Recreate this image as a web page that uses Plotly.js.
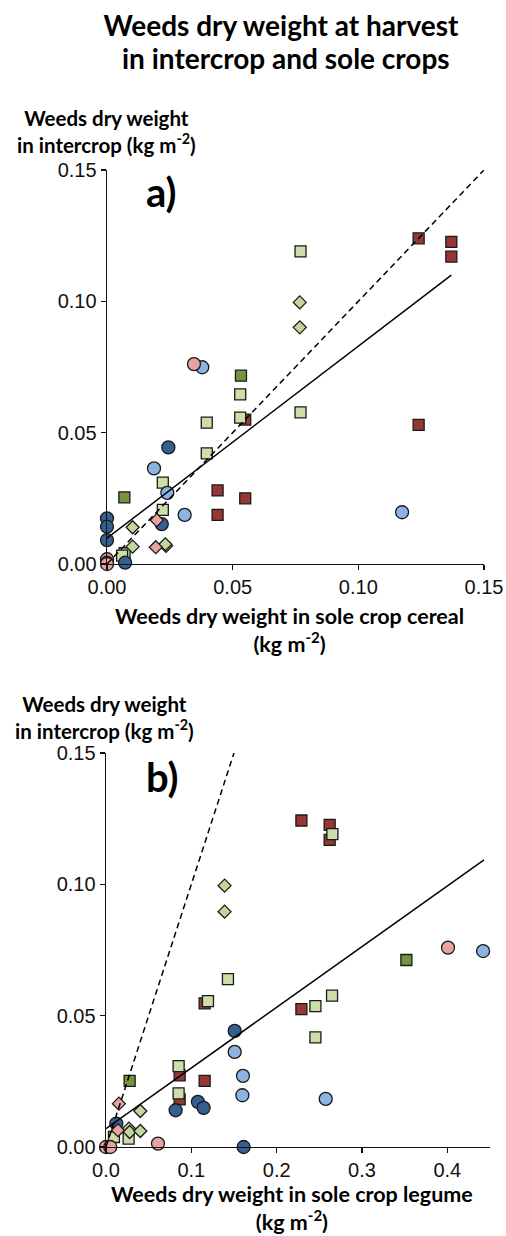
<!DOCTYPE html>
<html>
<head>
<meta charset="utf-8">
<script src="https://cdn.plot.ly/plotly-3.0.1.min.js"></script>
<style>html,body{margin:0;padding:0;background:#fff;}#chart{width:506px;height:1236px;}</style>
</head>
<body>
<div id="chart"></div>
<script>
// ---------- Panel a: x = weeds in sole crop cereal, y = weeds in intercrop ----------
const a_redSq_x   = [0.124, 0.137, 0.137, 0.124, 0.055, 0.044, 0.055, 0.044];
const a_redSq_y   = [0.124, 0.1226, 0.117, 0.053, 0.055, 0.028, 0.025, 0.0187];
const a_lgSq_x    = [0.077, 0.053, 0.053, 0.0397, 0.0397, 0.077, 0.0222, 0.0222, 0.007, 0.006];
const a_lgSq_y    = [0.119, 0.0646, 0.0557, 0.0538, 0.0421, 0.0577, 0.031, 0.0206, 0.0041, 0.0032];
const a_dgSq_x    = [0.0533, 0.0069];
const a_dgSq_y    = [0.0717, 0.0254];
const a_gDia_x    = [0.0767, 0.0767, 0.0102, 0.0102, 0.0235, 0.0232];
const a_gDia_y    = [0.0996, 0.0901, 0.014, 0.0066, 0.0069, 0.0075];
const a_pDia_x    = [0.0198, 0.0194];
const a_pDia_y    = [0.0167, 0.0064];
const a_pCirc_x   = [0.0346, 0.0, 0.0, 0.0];
const a_pCirc_y   = [0.0761, 0.0018, 0.0005, 0.0];
const a_lbCirc_x  = [0.0379, 0.0187, 0.024, 0.0309, 0.1174];
const a_lbCirc_y  = [0.0749, 0.0364, 0.0271, 0.0187, 0.0197];
const a_dbCirc_x  = [0.0244, 0.0218, 0.0, 0.0, 0.0, 0.0072];
const a_dbCirc_y  = [0.0444, 0.0152, 0.0174, 0.0142, 0.0091, 0.0005];
const a_fit_x     = [0.0, 0.137];
const a_fit_y     = [0.0098, 0.110];
const a_one_x     = [0.0, 0.15];
const a_one_y     = [0.0, 0.15];

// ---------- Panel b: x = weeds in sole crop legume, y = weeds in intercrop ----------
const b_redSq_x   = [0.229, 0.2621, 0.2621, 0.229, 0.1156, 0.0863, 0.1156, 0.0863];
const b_redSq_y   = [0.1243, 0.1226, 0.1169, 0.0525, 0.0547, 0.0273, 0.0252, 0.0181];
const b_lgSq_x    = [0.2653, 0.1429, 0.1195, 0.2454, 0.2454, 0.2649, 0.0851, 0.0851, 0.0093, 0.0265];
const b_lgSq_y    = [0.1191, 0.0639, 0.0555, 0.0536, 0.0417, 0.0576, 0.0308, 0.0204, 0.0038, 0.0032];
const b_dgSq_x    = [0.352, 0.0277];
const b_dgSq_y    = [0.0712, 0.0252];
const b_gDia_x    = [0.139, 0.139, 0.0402, 0.0269, 0.0277, 0.0402];
const b_gDia_y    = [0.0995, 0.0896, 0.0137, 0.007, 0.0057, 0.0061];
const b_pDia_x    = [0.0151, 0.014];
const b_pDia_y    = [0.0165, 0.0064];
const b_pCirc_x   = [0.4008, 0.0, 0.005, 0.0609];
const b_pCirc_y   = [0.0759, 0.0, 0.0, 0.0013];
const b_lbCirc_x  = [0.4419, 0.1508, 0.1605, 0.1598, 0.2575];
const b_lbCirc_y  = [0.0746, 0.0362, 0.0271, 0.0197, 0.0183];
const b_dbCirc_x  = [0.1508, 0.1077, 0.1144, 0.0816, 0.0121, 0.1613];
const b_dbCirc_y  = [0.0442, 0.0172, 0.0149, 0.014, 0.0089, 0.0];
const b_fit_x     = [0.0, 0.443];
const b_fit_y     = [0.007, 0.1093];
const b_one_x     = [0.0, 0.15];
const b_one_y     = [0.0, 0.15];

const xTicksA = [0, 0.05, 0.10, 0.15];
const xTicksB = [0, 0.1, 0.2, 0.3, 0.4];
const yTicks  = [0, 0.05, 0.10, 0.15];

// ---------- styling ----------
const W = 506, H = 1236;
const OUT = '#1a1a1a';
const styles = {
  redSq:  {symbol: 'square',  color: '#953735', size: 11},
  lgSq:   {symbol: 'square',  color: '#CDDFA9', size: 11},
  dgSq:   {symbol: 'square',  color: '#77933C', size: 11},
  lbCirc: {symbol: 'circle',  color: '#8DB3E2', size: 13},
  dbCirc: {symbol: 'circle',  color: '#365F91', size: 13},
  pCirc:  {symbol: 'circle',  color: '#E6A3A1', size: 13},
  gDia:   {symbol: 'diamond', color: '#C3D69B', size: 10},
  pDia:   {symbol: 'diamond', color: '#E6A3A1', size: 10}
};

function pts(x, y, st, xa, ya) {
  return {
    type: 'scatter', mode: 'markers', x: x, y: y, xaxis: xa, yaxis: ya,
    cliponaxis: false, hoverinfo: 'skip',
    marker: {symbol: st.symbol, color: st.color, size: st.size, line: {color: OUT, width: 1.3}}
  };
}
function ln(x, y, dash, xa, ya) {
  return {type: 'scatter', mode: 'lines', x: x, y: y, xaxis: xa, yaxis: ya,
    cliponaxis: false, hoverinfo: 'skip',
    line: {color: '#000', width: 1.5, dash: dash}};
}

const A = {redSq:[a_redSq_x,a_redSq_y], lgSq:[a_lgSq_x,a_lgSq_y], dgSq:[a_dgSq_x,a_dgSq_y],
  lbCirc:[a_lbCirc_x,a_lbCirc_y], pCirc:[a_pCirc_x,a_pCirc_y], dbCirc:[a_dbCirc_x,a_dbCirc_y],
  gDia:[a_gDia_x,a_gDia_y], pDia:[a_pDia_x,a_pDia_y]};
const B = {redSq:[b_redSq_x,b_redSq_y], lgSq:[b_lgSq_x,b_lgSq_y], dgSq:[b_dgSq_x,b_dgSq_y],
  lbCirc:[b_lbCirc_x,b_lbCirc_y], pCirc:[b_pCirc_x,b_pCirc_y], dbCirc:[b_dbCirc_x,b_dbCirc_y],
  gDia:[b_gDia_x,b_gDia_y], pDia:[b_pDia_x,b_pDia_y]};
const order = ['redSq','lgSq','dgSq','lbCirc','pCirc','dbCirc','gDia','pDia'];

const data = [];
order.forEach(k => data.push(pts(A[k][0], A[k][1], styles[k], 'x', 'y')));
data.push(ln(a_one_x, a_one_y, '6px,4px', 'x', 'y'));
data.push(ln(a_fit_x, a_fit_y, 'solid', 'x', 'y'));
order.forEach(k => data.push(pts(B[k][0], B[k][1], styles[k], 'x2', 'y2')));
data.push(ln(b_one_x, b_one_y, '6px,4px', 'x2', 'y2'));
data.push(ln(b_fit_x, b_fit_y, 'solid', 'x2', 'y2'));

const tickFont = {family: 'Liberation Sans, Arial, sans-serif', size: 20, color: '#111'};
function axisBase(extra) {
  return Object.assign({
    showline: true, linecolor: '#111', linewidth: 1.4, mirror: false,
    ticks: 'outside', ticklen: 5, tickwidth: 1.2, tickcolor: '#111',
    showgrid: false, zeroline: false, tickfont: tickFont, fixedrange: true
  }, extra);
}
const px = v => v / W;
const py = v => 1 - v / H;

const TF = 'Lato, "Open Sans", sans-serif';
function lab(text, x, y, size) {
  return {text: text, xref: 'paper', yref: 'paper', x: px(x), y: py(y),
    xanchor: 'center', yanchor: 'middle', showarrow: false,
    font: {family: TF, size: size, color: '#000', weight: 700}};
}

const layout = {
  width: W, height: H,
  margin: {l: 0, r: 0, t: 0, b: 0},
  paper_bgcolor: '#fff', plot_bgcolor: '#fff',
  showlegend: false,
  title: {text: 'Weeds dry weight at harvest',
    x: px(281), xanchor: 'center', y: py(26), yanchor: 'middle', yref: 'container',
    font: {family: TF, size: 28, color: '#000', weight: 700}},
  xaxis: axisBase({domain: [px(107), px(484)], anchor: 'y', range: [0, 0.15],
    tickvals: xTicksA, tickformat: '.2f'}),
  yaxis: axisBase({domain: [py(564), py(170)], anchor: 'x', range: [0, 0.15],
    tickvals: yTicks, tickformat: '.2f'}),
  xaxis2: axisBase({domain: [px(106), px(490)], anchor: 'y2', range: [0, 0.45],
    tickvals: xTicksB, tickformat: '.1f'}),
  yaxis2: axisBase({domain: [py(1147), py(753)], anchor: 'x2', range: [0, 0.15],
    tickvals: yTicks, tickformat: '.2f'}),
  annotations: [
    lab('in intercrop and sole crops', 286, 58, 28),
    lab('Weeds dry weight<br>in intercrop (kg m<sup>-2</sup>)', 106, 131, 20.5),
    lab('Weeds dry weight in sole crop cereal<br>(kg m<sup>-2</sup>)', 289, 630, 21.5),
    lab('a)', 161, 192, 40),
    lab('Weeds dry weight<br>in intercrop (kg m<sup>-2</sup>)', 104, 717, 20.5),
    lab('Weeds dry weight in sole crop legume<br>(kg m<sup>-2</sup>)', 292, 1208, 21.5),
    lab('b)', 162, 777, 40)
  ]
};

Plotly.newPlot('chart', data, layout, {staticPlot: true, displayModeBar: false});
</script>
</body>
</html>
